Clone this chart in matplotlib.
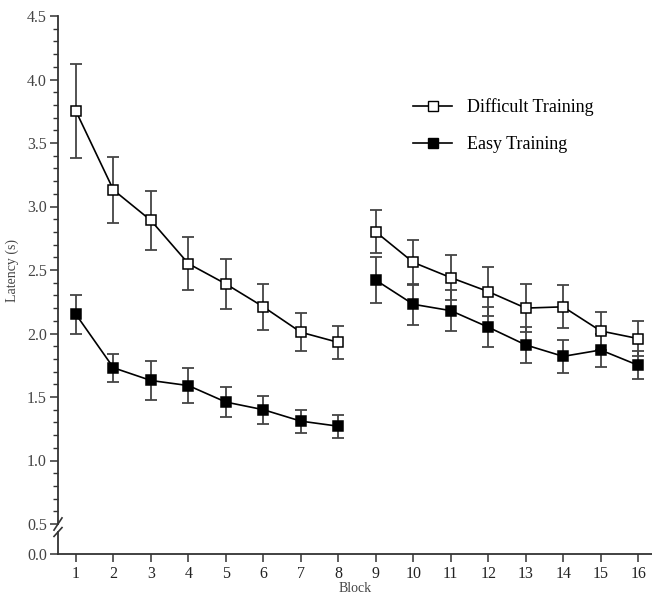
import numpy as np
import matplotlib
matplotlib.use('Agg')
import matplotlib.pyplot as plt
from matplotlib.ticker import MultipleLocator

plt.rcParams['font.family'] = ['Liberation Serif', 'DejaVu Serif']

# ---- data ----
blocks_a = [1, 2, 3, 4, 5, 6, 7, 8]
blocks_b = [9, 10, 11, 12, 13, 14, 15, 16]

difficult_a = [3.75, 3.13, 2.89, 2.55, 2.39, 2.21, 2.01, 1.93]
difficult_a_err = [0.37, 0.26, 0.23, 0.21, 0.20, 0.18, 0.15, 0.13]
difficult_b = [2.80, 2.56, 2.44, 2.33, 2.20, 2.21, 2.02, 1.96]
difficult_b_err = [0.17, 0.18, 0.18, 0.19, 0.19, 0.17, 0.15, 0.14]

easy_a = [2.15, 1.73, 1.63, 1.59, 1.46, 1.40, 1.31, 1.27]
easy_a_err = [0.15, 0.11, 0.15, 0.14, 0.12, 0.11, 0.09, 0.09]
easy_b = [2.42, 2.23, 2.18, 2.05, 1.91, 1.82, 1.87, 1.75]
easy_b_err = [0.18, 0.16, 0.16, 0.16, 0.14, 0.13, 0.13, 0.11]

x_ticks = list(range(1, 17))

W, H = 652, 600
fig = plt.figure(figsize=(W / 100, H / 100), dpi=100)

left_px, right_px = 58, 652
top_px, mid_px = 16, 524        # 4.5 and 0.5
low_top_px, low_bot_px = 532, 554  # lower stub down to 0.0

ax = fig.add_axes([left_px / W, 1 - mid_px / H, (right_px - left_px) / W, (mid_px - top_px) / H])
axb = fig.add_axes([left_px / W, 1 - low_bot_px / H, (right_px - left_px) / W, (low_bot_px - low_top_px) / H])

xlim = (0.52, 16.37)
err_col = '#444444'
txt_col = '#444444'
msize = 6.8

def draw(x, y, e, face):
    ax.errorbar(x, y, yerr=e, fmt='none', ecolor=err_col, elinewidth=1.3, capsize=4.5, capthick=1.3, zorder=2)
    ax.plot(x, y, color='black', lw=1.2, marker='s', markersize=msize, markerfacecolor=face,
            markeredgecolor='black', markeredgewidth=1.1, zorder=3)

draw(blocks_a, difficult_a, difficult_a_err, 'white')
draw(blocks_b, difficult_b, difficult_b_err, 'white')
draw(blocks_a, easy_a, easy_a_err, 'black')
draw(blocks_b, easy_b, easy_b_err, 'black')

# legend handles
h1, = ax.plot([], [], color='black', lw=1.2, marker='s', markersize=msize, markerfacecolor='white',
              markeredgecolor='black', label='Difficult Training')
h2, = ax.plot([], [], color='black', lw=1.2, marker='s', markersize=msize, markerfacecolor='black',
              markeredgecolor='black', label='Easy Training')
fig.legend(handles=[h1, h2], loc='upper left', bbox_to_anchor=(0.622, 0.848), frameon=False,
           fontsize=13, handlelength=2.2, handletextpad=0.8, labelspacing=1.1, borderaxespad=0)

# upper axis
ax.set_xlim(*xlim)
ax.set_ylim(0.5, 4.5)
ax.yaxis.set_major_locator(MultipleLocator(0.5))
ax.yaxis.set_minor_locator(MultipleLocator(0.1))
ax.yaxis.set_major_formatter(plt.FormatStrFormatter('%.1f'))
for s in ['top', 'right', 'bottom']:
    ax.spines[s].set_visible(False)
ax.spines['left'].set_linewidth(1.3)
ax.spines['left'].set_color('#333333')
ax.set_xticks([])
ax.tick_params(axis='y', which='major', direction='out', length=6, width=1.1, labelsize=11.5,
               labelcolor=txt_col, color='#333333', pad=2)
ax.tick_params(axis='y', which='minor', direction='out', length=3.5, width=1.0, color='#333333')
ax.set_ylabel('Latency (s)', fontsize=10, color=txt_col, labelpad=6)

# lower axis (0.0 stub)
axb.set_xlim(*xlim)
axb.set_ylim(0, 0.37)
axb.set_yticks([0.0])
axb.yaxis.set_major_formatter(plt.FormatStrFormatter('%.1f'))
axb.set_xticks(x_ticks)
for s in ['top', 'right']:
    axb.spines[s].set_visible(False)
axb.spines['left'].set_linewidth(1.3)
axb.spines['bottom'].set_linewidth(1.3)
axb.spines['left'].set_color('#333333')
axb.spines['bottom'].set_color('#333333')
axb.tick_params(axis='y', direction='out', length=6, width=1.1, labelsize=11.5, labelcolor=txt_col,
                color='#333333', pad=2)
axb.tick_params(axis='x', direction='out', length=6, width=1.1, labelsize=11.5, labelcolor='#222222',
                color='#333333', pad=3)
axb.set_xlabel('Block', fontsize=10, color=txt_col, labelpad=0)

# break marks on the y axis
d = 4 / (right_px - left_px)
ax.plot([-d, d], [-0.012, 0.012], transform=ax.transAxes, color='#333333', lw=1.2, clip_on=False)
axb.plot([-d, d], [0.8, 1.2], transform=axb.transAxes, color='#333333', lw=1.2, clip_on=False)

fig.savefig('out.png', dpi=100)
